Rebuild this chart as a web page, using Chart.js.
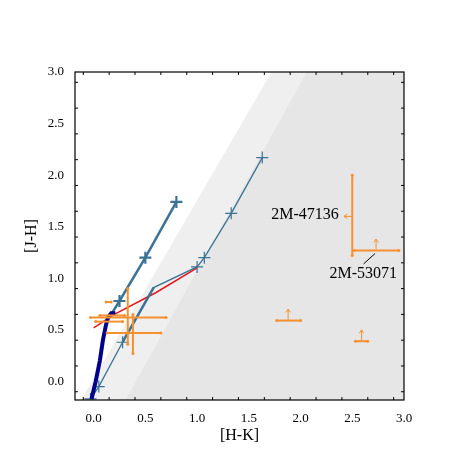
<!DOCTYPE html>
<html><head><script src="https://cdn.jsdelivr.net/npm/chart.js"></script>
<style>body{margin:0;background:#fff}#w{width:475px;height:475px}</style></head>
<body><div id="w"><canvas id="c"></canvas></div>
<script>
const tickVals=[0,0.5,1.0,1.5,2.0,2.5,3.0];
const tickLabels=["0.0","0.5","1.0","1.5","2.0","2.5","3.0"];
const dwarfLine=[[-0.02,-0.17],[0.02,0.0],[0.06,0.2],[0.09,0.4],[0.12,0.55],[0.14,0.62],[0.17,0.66],[0.21,0.66]];
const giantLine=[[0.17,0.65],[0.25,0.78],[0.5,1.2],[0.8,1.74]];
const giantMarks=[[0.25,0.78],[0.5,1.2],[0.8,1.74]];
const thinLine=[[-0.03,-0.17],[0.05,-0.05],[0.28,0.38],[0.58,0.91],[1.0,1.11],[1.07,1.2],[1.33,1.63],[1.63,2.17]];
const thinMarks=[[-0.03,-0.17],[0.05,-0.05],[0.28,0.38],[1.0,1.11],[1.07,1.2],[1.33,1.63],[1.63,2.17]];
const thickSeg=[[0.28,0.38],[0.58,0.91]];
const redLine=[[0.0,0.52],[0.2,0.65],[0.6,0.86],[1.0,1.1]];
const orangeBars=[[-0.03,0.62,0.7,0.62],[0.13,0.47,0.65,0.47],[0.02,0.58,0.28,0.58],[0.06,0.64,0.3,0.64],
 [0.33,0.36,0.33,0.9],[0.38,0.27,0.38,0.65],[0.12,0.77,0.17,0.77],
 [2.5,1.22,2.5,2.0],[2.52,1.27,2.95,1.27],[1.77,0.59,2.0,0.59],[2.53,0.39,2.65,0.39]];
const arrows=[[2.5,1.6,2.42,1.6],[2.73,1.28,2.73,1.38],[1.88,0.59,1.88,0.7],[2.59,0.39,2.59,0.5]];
const lightZone=[[-0.12,-0.18],[1.72,3.0],[3.0,3.0],[3.0,-0.18]];
const darkZone=[[0.31,-0.18],[2.06,3.0],[3.0,3.0],[3.0,-0.18]];
const labels=[{t:"2M-47136",x:2.37,y:1.62,align:"right"},{t:"2M-53071",x:2.28,y:1.04,align:"left"}];
const leader=[[2.72,1.24],[2.61,1.14]];

const pts=a=>a.map(p=>({x:p[0],y:p[1]}));
const teal="#3a7393", orange="#f7902f";
const F="'Liberation Serif','DejaVu Serif',serif";
const plug={id:'p',
 beforeDatasetsDraw(ch){const c=ch.ctx,X=ch.scales.x,Y=ch.scales.y,a=ch.chartArea;
  c.save();c.beginPath();c.rect(a.left,a.top,a.right-a.left,a.bottom-a.top);c.clip();
  [[lightZone,"#efefef"],[darkZone,"#e6e6e6"]].forEach(([z,col])=>{c.beginPath();z.forEach((p,i)=>{const px=X.getPixelForValue(p[0]),py=Y.getPixelForValue(p[1]);i?c.lineTo(px,py):c.moveTo(px,py);});c.closePath();c.fillStyle=col;c.fill();});
  c.restore();},
 afterDatasetsDraw(ch){const c=ch.ctx,X=ch.scales.x,Y=ch.scales.y,a=ch.chartArea;
  c.save();c.strokeStyle=orange;c.lineWidth=2;
  orangeBars.forEach(b=>{const x1=X.getPixelForValue(b[0]),y1=Y.getPixelForValue(b[1]),x2=X.getPixelForValue(b[2]),y2=Y.getPixelForValue(b[3]);
   c.beginPath();c.moveTo(x1,y1);c.lineTo(x2,y2);c.stroke();
   c.fillStyle=orange;[[x1,y1],[x2,y2]].forEach(p=>{c.beginPath();c.arc(p[0],p[1],1.5,0,7);c.fill();});});
  c.lineWidth=1;
  arrows.forEach(b=>{const x1=X.getPixelForValue(b[0]),y1=Y.getPixelForValue(b[1]),x2=X.getPixelForValue(b[2]),y2=Y.getPixelForValue(b[3]);
   c.beginPath();c.moveTo(x1,y1);c.lineTo(x2,y2);c.stroke();
   const an=Math.atan2(y2-y1,x2-x1);c.beginPath();c.moveTo(x2-4*Math.cos(an-0.6),y2-4*Math.sin(an-0.6));c.lineTo(x2,y2);c.lineTo(x2-4*Math.cos(an+0.6),y2-4*Math.sin(an+0.6));c.stroke();});
  c.strokeStyle="#000";c.beginPath();c.moveTo(X.getPixelForValue(leader[0][0]),Y.getPixelForValue(leader[0][1]));c.lineTo(X.getPixelForValue(leader[1][0]),Y.getPixelForValue(leader[1][1]));c.stroke();
  c.fillStyle="#000";c.font="16px "+F;c.textBaseline="middle";
  labels.forEach(l=>{c.textAlign=l.align;c.fillText(l.t,X.getPixelForValue(l.x),Y.getPixelForValue(l.y));});
  c.lineWidth=1.2;c.strokeRect(a.left,a.top,a.right-a.left,a.bottom-a.top);
  c.lineWidth=1;
  for(let v=-0.1;v<=3.001;v+=0.25){const m=Math.abs((v*2)-Math.round(v*2))<1e-6,L=m?6:3;
   if(v>=X.min){const px=X.getPixelForValue(v);c.beginPath();c.moveTo(px,a.bottom);c.lineTo(px,a.bottom-L);c.moveTo(px,a.top);c.lineTo(px,a.top+L);c.stroke();}
   if(v>=Y.min){const py=Y.getPixelForValue(v);c.beginPath();c.moveTo(a.left,py);c.lineTo(a.left+L,py);c.moveTo(a.right,py);c.lineTo(a.right-L,py);c.stroke();}}
  c.restore();}};
function ax(title){return{type:'linear',min:-0.18,max:3.0,
 afterBuildTicks:s=>{s.ticks=tickVals.map(v=>({value:v}));},
 ticks:{callback:(v)=>tickLabels[tickVals.indexOf(v)],color:'#000',font:{family:F,size:13},padding:3},
 grid:{display:false},border:{display:false},
 title:{display:true,text:title,color:'#000',font:{family:F,size:16},padding:2}};}
const line=(d,col,w)=>({type:'line',data:pts(d),borderColor:col,backgroundColor:col,borderWidth:w,pointRadius:0,fill:false,tension:0});
new Chart(document.getElementById('c'),{type:'scatter',
 data:{datasets:[line(dwarfLine,"#00008b",4),line(thinLine,teal,1.3),line(thickSeg,teal,2.5),line(giantLine,teal,2.5),line(redLine,"#e8141e",1.5),
  {type:'scatter',data:pts(thinMarks),pointStyle:'cross',pointRadius:6,borderColor:teal,borderWidth:1.2},
  {type:'scatter',data:pts(giantMarks),pointStyle:'cross',pointRadius:6,borderColor:teal,borderWidth:2.2}]},
 options:{responsive:true,maintainAspectRatio:false,animation:false,
  layout:{padding:{top:72,right:71,left:20,bottom:28}},
  plugins:{legend:{display:false},tooltip:{enabled:false}},
  scales:{x:{...ax('[H-K]'),afterFit:s=>{s.height=47;}},y:{...ax('[J-H]'),afterFit:s=>{s.width=55;}}}},
 plugins:[plug]});
</script></body></html>
